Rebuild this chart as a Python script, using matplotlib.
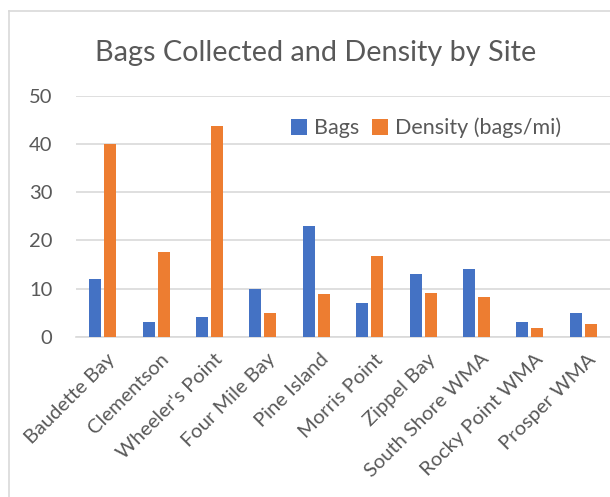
import matplotlib
matplotlib.use("Agg")
import matplotlib.pyplot as plt
import numpy as np
from matplotlib.lines import Line2D
from matplotlib.transforms import ScaledTranslation

categories = ["Baudette Bay", "Clementson", "Wheeler's Point", "Four Mile Bay", "Pine Island",
              "Morris Point", "Zippel Bay", "South Shore WMA", "Rocky Point WMA", "Prosper WMA"]
bags = [12, 3, 4, 10, 23, 7, 13, 14, 3, 5]
density = [40, 17.5, 43.8, 5, 8.8, 16.7, 9, 8.2, 1.8, 2.6]
yticks = [0, 10, 20, 30, 40, 50]

plt.rcParams['font.family'] = ['Lato', 'DejaVu Sans']
W, H = 610, 497
fig = plt.figure(figsize=(W/100, H/100), dpi=100)

# chart border (left and top)
fig.add_artist(Line2D([9/W, 9/W], [0, 1 - 11/H], color='#D9D9D9', lw=1.2, transform=fig.transFigure))
fig.add_artist(Line2D([9/W, 1], [1 - 11/H, 1 - 11/H], color='#D9D9D9', lw=1.2, transform=fig.transFigure))

left, right = 76, 610
top, bottom = 96, 336.7
ax = fig.add_axes([left/W, (H-bottom)/H, (right-left)/W, (bottom-top)/H])

x = np.arange(len(categories))
bw = 0.225
gap = 0.055
off = (bw + gap) / 2
ax.bar(x - off, bags, width=bw, color='#4472C4', label='Bags', zorder=3)
ax.bar(x + off, density, width=bw, color='#ED7D31', label='Density (bags/mi)', zorder=3)

ax.set_xlim(-0.5, len(categories) - 0.5)
ax.set_ylim(0, 50)
ax.set_yticks(yticks)
ax.yaxis.grid(True, color='#D9D9D9', lw=1.2, zorder=0)
for s in ['top', 'right', 'left']:
    ax.spines[s].set_visible(False)
ax.spines['bottom'].set_color('#D9D9D9')
ax.spines['bottom'].set_linewidth(1.2)
ax.tick_params(axis='both', length=0, colors='#595959', labelsize=14.5)
ax.tick_params(axis='y', pad=17)
ax.set_xticks(x)
ax.set_xticklabels(categories, rotation=45, ha='right', rotation_mode='anchor')
ax.tick_params(axis='x', pad=10)
shift = ScaledTranslation(4/100, 0, fig.dpi_scale_trans)
for lbl in ax.get_xticklabels():
    lbl.set_transform(lbl.get_transform() + shift)

fig.text(316/W, 1 - 53/H, 'Bags Collected and Density by Site', ha='center', va='center',
         fontsize=20.8, color='#595959')

leg = ax.legend(loc='center', bbox_to_anchor=((426 - left)/(right-left), (bottom-128)/(bottom-top)),
                ncol=2, frameon=False, fontsize=15.5, handlelength=0.75, handleheight=0.75,
                handletextpad=0.3, columnspacing=0.6, borderaxespad=0)
for t in leg.get_texts():
    t.set_color('#595959')

fig.savefig('out.png', dpi=100)
